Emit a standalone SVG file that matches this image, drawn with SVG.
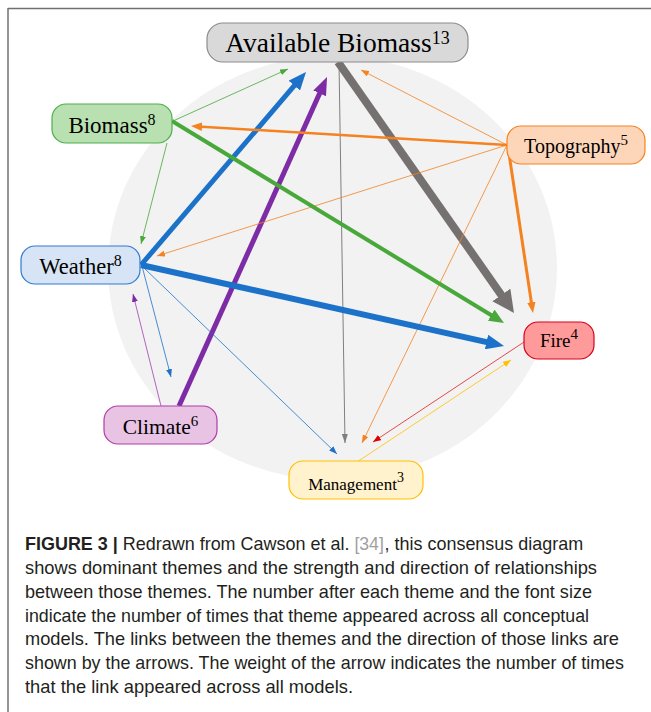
<svg xmlns="http://www.w3.org/2000/svg" width="651" height="712" viewBox="0 0 651 712">
<style>
.node text{font-family:"Liberation Serif","Times New Roman",serif;fill:#000;text-anchor:middle}
.cap{font-family:"Liberation Sans",Arial,sans-serif;font-size:18.5px;fill:#231f20}
.cap.ref{fill:#a0a0a0}
.c line{fill:none}
.thin{stroke-width:0.8}
</style>
<defs>
<marker id="tGreen" markerUnits="userSpaceOnUse" viewBox="0 0 8 6" markerWidth="8" markerHeight="6" refX="8" refY="3" orient="auto"><path d="M0,0 L8,3 L0,6 z" fill="#48a83a"/></marker>
<marker id="tOrange" markerUnits="userSpaceOnUse" viewBox="0 0 8 6" markerWidth="8" markerHeight="6" refX="8" refY="3" orient="auto"><path d="M0,0 L8,3 L0,6 z" fill="#f58220"/></marker>
<marker id="tBlue" markerUnits="userSpaceOnUse" viewBox="0 0 8 6" markerWidth="8" markerHeight="6" refX="8" refY="3" orient="auto"><path d="M0,0 L8,3 L0,6 z" fill="#1c72c8"/></marker>
<marker id="tPurple" markerUnits="userSpaceOnUse" viewBox="0 0 8 6" markerWidth="8" markerHeight="6" refX="8" refY="3" orient="auto"><path d="M0,0 L8,3 L0,6 z" fill="#7d2ca5"/></marker>
<marker id="tRed" markerUnits="userSpaceOnUse" viewBox="0 0 8 6" markerWidth="8" markerHeight="6" refX="8" refY="3" orient="auto"><path d="M0,0 L8,3 L0,6 z" fill="#e00000"/></marker>
<marker id="tGold" markerUnits="userSpaceOnUse" viewBox="0 0 8 6" markerWidth="8" markerHeight="6" refX="8" refY="3" orient="auto"><path d="M0,0 L8,3 L0,6 z" fill="#ffc000"/></marker>
<marker id="tGray" markerUnits="userSpaceOnUse" viewBox="0 0 9 6" markerWidth="9" markerHeight="6" refX="9" refY="3" orient="auto"><path d="M0,0 L9,3 L0,6 z" fill="#7f7f7f"/></marker>
<marker id="mOrange" markerUnits="userSpaceOnUse" viewBox="0 0 11 8.5" markerWidth="11" markerHeight="8.5" refX="4.4" refY="4.25" orient="auto"><path d="M0,0 L11,4.25 L0,8.5 z" fill="#f58220"/></marker>
<marker id="bBlue" markerUnits="userSpaceOnUse" viewBox="0 0 18 15" markerWidth="18" markerHeight="15" refX="7.2" refY="7.5" orient="auto"><path d="M0,0 L18,7.5 L0,15 z" fill="#1c72c8"/></marker>
<marker id="bPurple" markerUnits="userSpaceOnUse" viewBox="0 0 18 14" markerWidth="18" markerHeight="14" refX="7.2" refY="7" orient="auto"><path d="M0,0 L18,7 L0,14 z" fill="#7d2ca5"/></marker>
<marker id="bGray" markerUnits="userSpaceOnUse" viewBox="0 0 22 22" markerWidth="22" markerHeight="22" refX="8.8" refY="11" orient="auto"><path d="M0,0 L22,11 L0,22 z" fill="#767171"/></marker>
<marker id="bGreen" markerUnits="userSpaceOnUse" viewBox="0 0 15 13" markerWidth="15" markerHeight="13" refX="6" refY="6.5" orient="auto"><path d="M0,0 L15,6.5 L0,13 z" fill="#48a83a"/></marker>
</defs>
<rect width="651" height="712" fill="#ffffff"/>
<g id="frame" stroke="#707070" stroke-width="1.5" fill="none">
<line x1="8" y1="8.5" x2="651" y2="8.5"/>
<line x1="8" y1="8" x2="8" y2="712"/>
</g>
<ellipse id="background" cx="332.5" cy="268" rx="224.5" ry="212" fill="#f2f2f2"/>
<g id="connectors" class="c">
<line class="thin" x1="173" y1="121" x2="288" y2="69" stroke="#48a83a" marker-end="url(#tGreen)"/>
<line x1="141" y1="265" x2="299" y2="80.2" stroke="#1c72c8" stroke-width="5" marker-end="url(#bBlue)"/>
<line x1="179" y1="406" x2="322.6" y2="86.8" stroke="#7d2ca5" stroke-width="5" marker-end="url(#bPurple)"/>
<line x1="339" y1="62" x2="345" y2="443" stroke="#7f7f7f" stroke-width="1" marker-end="url(#tGray)"/>
<line x1="338" y1="62" x2="506.4" y2="302.2" stroke="#767171" stroke-width="8" marker-end="url(#bGray)"/>
<line class="thin" x1="507" y1="145" x2="361" y2="70" stroke="#f58220" marker-end="url(#tOrange)"/>
<line x1="507" y1="145" x2="197.6" y2="126.4" stroke="#f58220" stroke-width="2.5" marker-end="url(#mOrange)"/>
<line class="thin" x1="507" y1="145" x2="157" y2="256" stroke="#f58220" marker-end="url(#tOrange)"/>
<line x1="508" y1="147" x2="532" y2="306.5" stroke="#f58220" stroke-width="3" marker-end="url(#mOrange)"/>
<line class="thin" x1="507" y1="145" x2="362" y2="443" stroke="#f58220" marker-end="url(#tOrange)"/>
<line class="thin" x1="167" y1="143" x2="141" y2="244" stroke="#48a83a" marker-end="url(#tGreen)"/>
<line x1="172" y1="121" x2="496.3" y2="318.3" stroke="#48a83a" stroke-width="4" marker-end="url(#bGreen)"/>
<line x1="141" y1="265" x2="493.5" y2="343.6" stroke="#1c72c8" stroke-width="6" marker-end="url(#bBlue)"/>
<line class="thin" x1="142" y1="266" x2="171" y2="377" stroke="#1c72c8" marker-end="url(#tBlue)"/>
<line class="thin" x1="142" y1="266" x2="337" y2="454" stroke="#1c72c8" marker-end="url(#tBlue)"/>
<line class="thin" x1="161" y1="406" x2="133" y2="294" stroke="#a040b0" marker-end="url(#tPurple)"/>
<line class="thin" x1="524" y1="342" x2="373" y2="442" stroke="#e02020" marker-end="url(#tRed)"/>
<line class="thin" x1="357" y1="462" x2="511" y2="360" stroke="#ffc000" marker-end="url(#tGold)"/>
</g>
<g id="node-available-biomass" class="node">
<rect x="207" y="23" width="261" height="39" rx="16" fill="#d9d9d9" stroke="#8c8c8c" stroke-width="1.2"/>
<text x="337.5" y="52" font-size="27.5">Available Biomass<tspan font-size="18" dy="-8">13</tspan></text>
</g>
<g id="node-biomass" class="node">
<rect x="52" y="104" width="120" height="39" rx="14" fill="#b9e0b0" stroke="#4cae4c" stroke-width="1.2"/>
<text x="112" y="133" font-size="23">Biomass<tspan font-size="16" dy="-8">8</tspan></text>
</g>
<g id="node-weather" class="node">
<rect x="21" y="246" width="119" height="38" rx="14" fill="#d6e4f5" stroke="#2e7bcf" stroke-width="1.2"/>
<text x="80.5" y="274" font-size="22.5">Weather<tspan font-size="16" dy="-8">8</tspan></text>
</g>
<g id="node-topography" class="node">
<rect x="507" y="126" width="138" height="38" rx="14" fill="#fdd6ba" stroke="#f58220" stroke-width="1.2"/>
<text x="576" y="153" font-size="20">Topography<tspan font-size="15" dy="-8">5</tspan></text>
</g>
<g id="node-fire" class="node">
<rect x="524" y="322" width="70" height="37" rx="14" fill="#ff9a9a" stroke="#d9001b" stroke-width="1.2"/>
<text x="559" y="347" font-size="19">Fire<tspan font-size="15" dy="-8">4</tspan></text>
</g>
<g id="node-climate" class="node">
<rect x="104" y="406" width="113" height="38" rx="14" fill="#e8c3e3" stroke="#b03ca8" stroke-width="1.2"/>
<text x="160.5" y="434" font-size="21.5">Climate<tspan font-size="15" dy="-8">6</tspan></text>
</g>
<g id="node-management" class="node">
<rect x="289" y="461" width="134" height="38" rx="14" fill="#fff2cc" stroke="#ffc000" stroke-width="1.2"/>
<text x="356" y="490" font-size="17">Management<tspan font-size="14" dy="-8">3</tspan></text>
</g>
<g id="caption">
<text class="cap" x="25" y="550" textLength="92.8" lengthAdjust="spacingAndGlyphs" font-weight="bold">FIGURE 3 |</text>
<text class="cap" x="122.8" y="550" textLength="226.6" lengthAdjust="spacingAndGlyphs">Redrawn from Cawson et al.</text>
<text class="cap ref" x="354.4" y="550" textLength="29.4" lengthAdjust="spacingAndGlyphs">[34]</text>
<text class="cap" x="384.6" y="550" textLength="198.5" lengthAdjust="spacingAndGlyphs">, this consensus diagram</text>
<text class="cap" x="25" y="574" textLength="572" lengthAdjust="spacingAndGlyphs">shows dominant themes and the strength and direction of relationships</text>
<text class="cap" x="25" y="597.5" textLength="567" lengthAdjust="spacingAndGlyphs">between those themes. The number after each theme and the font size</text>
<text class="cap" x="25" y="621.5" textLength="564" lengthAdjust="spacingAndGlyphs">indicate the number of times that theme appeared across all conceptual</text>
<text class="cap" x="25" y="645" textLength="594" lengthAdjust="spacingAndGlyphs">models. The links between the themes and the direction of those links are</text>
<text class="cap" x="25" y="669" textLength="599" lengthAdjust="spacingAndGlyphs">shown by the arrows. The weight of the arrow indicates the number of times</text>
<text class="cap" x="25" y="693" textLength="328" lengthAdjust="spacingAndGlyphs">that the link appeared across all models.</text>
</g>
</svg>
